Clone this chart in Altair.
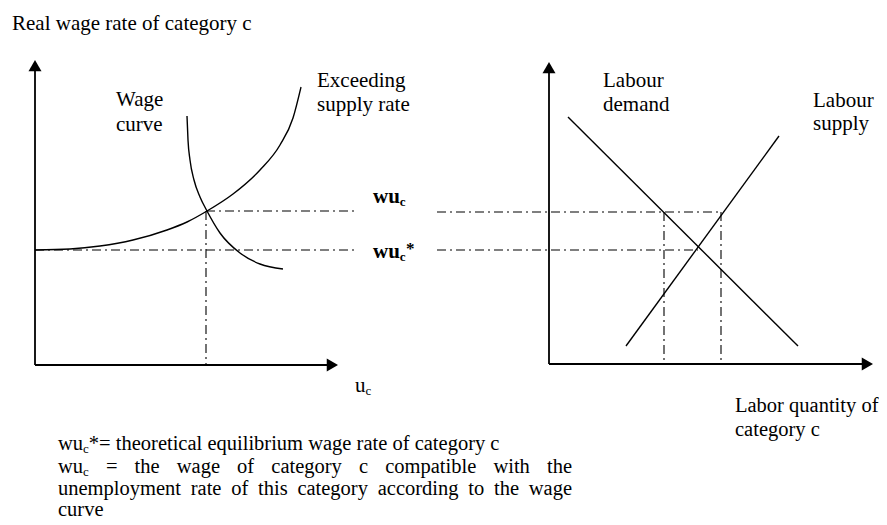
import altair as alt
import pandas as pd

# ---------------- canvas (reference pixel coordinates) ----------------
W, H = 871, 509
X0, Y0 = 8, 8
FONT = "Liberation Serif"

# ---------------- solid axis lines ----------------
axis_x1 = [35, 35, 549, 549]
axis_y1 = [365, 365, 364, 364]
axis_x2 = [35, 332, 549, 867]
axis_y2 = [66, 365, 68, 364]

# arrow heads (centre of triangle)
arrow_up_x = [35, 549]
arrow_up_y = [65.6, 67.6]
arrow_right_x = [332.4, 867.4]
arrow_right_y = [365, 364]

# ---------------- right panel: demand & supply straight lines ----------------
line_name = ["Labour demand", "Labour supply"]
line_x1 = [568, 626]
line_y1 = [117, 346]
line_x2 = [798, 779]
line_y2 = [346, 136]

# ---------------- left panel curves ----------------
exceeding_x = [35, 70, 100, 133, 167, 187, 207, 233, 260, 280, 293, 301]
exceeding_y = [250, 249, 246, 240, 230, 222, 211, 194, 170, 145, 118, 87]
wagecurve_x = [187, 188, 190, 194, 200, 207, 220, 240, 260, 283]
wagecurve_y = [116, 140, 160, 180, 197, 211, 233, 253, 264, 269]

# ---------------- dash-dot guide lines ----------------
dd_x1 = [206, 437, 35, 437, 206, 664, 721]
dd_y1 = [211, 212, 250, 250, 211, 212, 212]
dd_x2 = [358, 722, 358, 698, 206, 664, 721]
dd_y2 = [211, 212, 250, 250, 365, 364, 364]

# ---------------- labels (left x, baseline y, font size) ----------------
label_text = ["Real wage rate of category c", "Wage", "curve", "Exceeding", "supply rate",
              "Labour", "demand", "Labour", "supply", "Labor quantity of", "category c", "u"]
label_x = [12, 116, 116, 317, 317, 603, 603, 813, 813, 735, 735, 355]
label_y = [30, 106, 131, 87, 111, 87, 111, 107, 130, 412, 436, 392]
label_fs = [21, 21, 21, 21, 21, 21, 21, 21, 21, 20.5, 20.5, 21]

bold_text = ["wu", "wu"]
bold_x = [373, 373]
bold_y = [203, 258]

# footnote
FS = 20.5
foot_left, foot_right = 58, 572
foot_baseline = [450, 473, 495, 516]
foot_mode = ["left", "justify", "justify", "left"]
foot_words = [
    [[("wu", FS, 0), ("c", 13, 3), ("*=", FS, 0)], "theoretical", "equilibrium", "wage", "rate",
     "of", "category", "c"],
    [[("wu", FS, 0), ("c", 13, 3)], "=", "the", "wage", "of", "category", "c", "compatible",
     "with", "the"],
    ["unemployment", "rate", "of", "this", "category", "according", "to", "the", "wage"],
    ["curve"],
]

# Times/Liberation Serif advance widths (per 1000 em) for text layout
TW = {' ': 250, 'a': 444, 'b': 500, 'c': 444, 'd': 500, 'e': 444, 'f': 333, 'g': 500, 'h': 500,
      'i': 278, 'j': 278, 'k': 500, 'l': 278, 'm': 778, 'n': 500, 'o': 500, 'p': 500, 'q': 500,
      'r': 333, 's': 389, 't': 278, 'u': 500, 'v': 500, 'w': 722, 'x': 500, 'y': 500, 'z': 444,
      '=': 564, '*': 500}
TWB = {'w': 722, 'u': 556, 'c': 444, '*': 500}


def tw(s, size, table=TW):
    return sum(table.get(ch, 500) for ch in s) * size / 1000.0


def runs_of(word):
    return word if isinstance(word, list) else [(word, FS, 0)]


def word_width(word):
    return sum(tw(t, fs) for t, fs, _ in runs_of(word))


reg_rows = []
for t, x, y, fs in zip(label_text, label_x, label_y, label_fs):
    reg_rows.append({"text": t, "x": x, "y": y, "fs": fs})
# subscript of u_c
reg_rows.append({"text": "c", "x": 355 + tw("u", 21), "y": 395, "fs": 13})

for mode, words, base in zip(foot_mode, foot_words, foot_baseline):
    widths = [word_width(w) for w in words]
    if mode == "justify" and len(words) > 1:
        gap = (foot_right - foot_left - sum(widths)) / (len(words) - 1)
    else:
        gap = tw(" ", FS)
    cx = foot_left
    for w, wd in zip(words, widths):
        rx = cx
        for t, fs, dy in runs_of(w):
            reg_rows.append({"text": t, "x": rx, "y": base + dy, "fs": fs})
            rx += tw(t, fs)
        cx += wd + gap

bold_rows = []
for t, x, y in zip(bold_text, bold_x, bold_y):
    bold_rows.append({"text": t, "x": x, "y": y, "fs": 21})
    sx = x + tw(t, 21, TWB)
    bold_rows.append({"text": "c", "x": sx, "y": y + 3, "fs": 13})
bold_rows.append({"text": "*", "x": bold_x[1] + tw("wu", 21, TWB) + tw("c", 13, TWB) + 0.5,
                  "y": bold_y[1] - 4, "fs": 17})

# ---------------- build chart ----------------
xs = alt.Scale(domain=[X0, X0 + W], nice=False, zero=False)
ys = alt.Scale(domain=[Y0, Y0 + H], nice=False, zero=False, reverse=True)


def X(f):
    return alt.X(f, type="quantitative", scale=xs, axis=None)


def Y(f):
    return alt.Y(f, type="quantitative", scale=ys, axis=None)


axes_df = pd.DataFrame({"x": axis_x1, "y": axis_y1, "x2": axis_x2, "y2": axis_y2})
axes = alt.Chart(axes_df).mark_rule(color="black", strokeWidth=1.8).encode(
    x=X("x"), y=Y("y"), x2="x2", y2="y2")

up_df = pd.DataFrame({"x": arrow_up_x, "y": arrow_up_y})
ups = alt.Chart(up_df).mark_point(shape="triangle-up", filled=True, color="black",
                                  size=169, opacity=1).encode(x=X("x"), y=Y("y"))
right_df = pd.DataFrame({"x": arrow_right_x, "y": arrow_right_y})
rights = alt.Chart(right_df).mark_point(shape="triangle-right", filled=True, color="black",
                                        size=169, opacity=1).encode(x=X("x"), y=Y("y"))

lines_df = pd.DataFrame({"name": line_name, "x": line_x1, "y": line_y1, "x2": line_x2, "y2": line_y2})
lines = alt.Chart(lines_df).mark_rule(color="black", strokeWidth=1.4).encode(
    x=X("x"), y=Y("y"), x2="x2", y2="y2", detail="name:N")

curves_df = pd.concat([
    pd.DataFrame({"curve": "Exceeding supply rate", "x": exceeding_x, "y": exceeding_y,
                  "i": range(len(exceeding_x))}),
    pd.DataFrame({"curve": "Wage curve", "x": wagecurve_x, "y": wagecurve_y,
                  "i": range(len(wagecurve_x))}),
])
curves = alt.Chart(curves_df).mark_line(color="black", strokeWidth=1.4, interpolate="monotone").encode(
    x=X("x"), y=Y("y"), detail="curve:N", order="i:Q")

dd_df = pd.DataFrame({"x": dd_x1, "y": dd_y1, "x2": dd_x2, "y2": dd_y2})
guides = alt.Chart(dd_df).mark_rule(color="black", strokeWidth=1.1, strokeDash=[9, 4, 2, 4]).encode(
    x=X("x"), y=Y("y"), x2="x2", y2="y2")

reg_df = pd.DataFrame(reg_rows)
texts = alt.Chart(reg_df).mark_text(align="left", baseline="alphabetic", font=FONT,
                                    color="black").encode(
    x=X("x"), y=Y("y"), text="text:N", size=alt.Size("fs:Q", scale=None, legend=None))

bold_df = pd.DataFrame(bold_rows)
btexts = alt.Chart(bold_df).mark_text(align="left", baseline="alphabetic", font=FONT,
                                      fontWeight="bold", color="black").encode(
    x=X("x"), y=Y("y"), text="text:N", size=alt.Size("fs:Q", scale=None, legend=None))

chart = alt.layer(guides, axes, lines, curves, ups, rights, texts, btexts).properties(
    width=W, height=H, padding=0, autosize=alt.AutoSizeParams(type="none"),
    background="white",
).configure_view(stroke=None)

chart.save("out.html", embed_options={"renderer": "svg", "actions": False})
